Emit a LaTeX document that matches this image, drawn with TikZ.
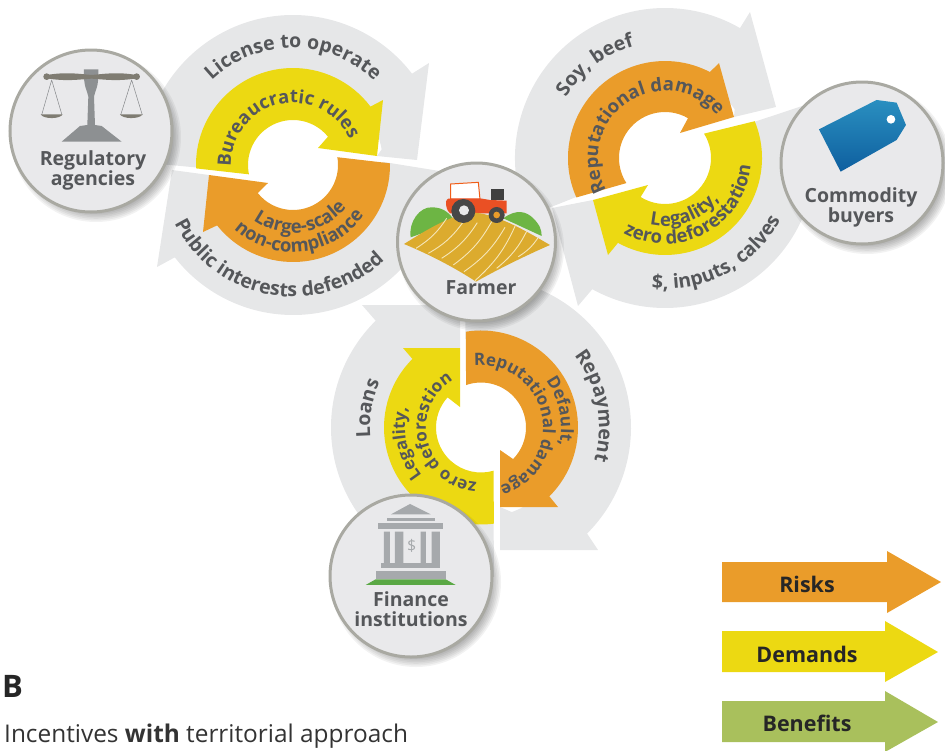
\documentclass[tikz,border=0pt]{standalone}
\usepackage{fontspec}
\setmainfont{Open Sans}
\usetikzlibrary{calc,decorations.text}
\definecolor{greyring}{HTML}{E6E7E8}
\definecolor{yel}{HTML}{ECD912}
\definecolor{ora}{HTML}{EA9C2A}
\definecolor{grn}{HTML}{A9C05C}
\definecolor{txtg}{HTML}{55575A}
\definecolor{hubfill}{HTML}{E9E9EB}
\definecolor{hubline}{HTML}{A9A9A2}
\definecolor{bank}{HTML}{A6A9AC}
\definecolor{beam}{HTML}{7F7C72}
\definecolor{bush}{HTML}{6DB544}
\definecolor{fieldc}{HTML}{DCAB2E}
\definecolor{furrow}{HTML}{F5E6B8}
\definecolor{lawn}{HTML}{5AA845}
\definecolor{tagtop}{HTML}{2A8FC0}
\definecolor{tagbot}{HTML}{0E5F9F}
\definecolor{tracred}{HTML}{EA5024}
\newcommand\lab{\fontsize{18.5}{23}\selectfont\bfseries\color{txtg}}
\newcommand\tight{\fontsize{17}{20}\selectfont}
\newcommand\wide{\fontsize{19.5}{23}\selectfont}
\newcommand\Arr[9]{\fill[#1] ($(#2)+(#4:#3)$) arc[start angle=#4,end angle=#5,radius=#3] #6 -- ($(#2)+(#8:#7)$) arc[start angle=#8,end angle=#9,radius=#7] -- cycle;}
\newcommand\CT[5]{\path[decorate,decoration={text along path,text align=center,text={|\lab#4|#5}}] ($(#1)+(#3+130:#2)$) arc[start angle=#3+130,end angle=#3-130,radius=#2];}
\newcommand\CC[5]{\path[decorate,decoration={text along path,text align=center,text={|\lab#4|#5}}] ($(#1)+(#3-130:#2)$) arc[start angle=#3-130,end angle=#3+130,radius=#2];}
\tikzset{
  hub/.style={circle,draw=hubline,line width=3pt,fill=hubfill,minimum size=#1,inner sep=0pt},
  hubtext/.style={font=\fontsize{19.5}{20}\selectfont\bfseries,text=txtg,align=center,inner sep=0pt},
  legendtext/.style={font=\fontsize{21.5}{24}\selectfont\bfseries,text=black!85,inner sep=0pt}
}
\newcommand\Shad[3]{\foreach \k in {0,...,7}{\fill[black,opacity=0.05] (#1+5,-#2-6) circle ({#3+4-\k*1.6});}}
\begin{document}
\begin{tikzpicture}[x=1pt,y=1pt]
\useasboundingbox (0,0) rectangle (945,-750);
\coordinate (c1) at (293,-165);
\coordinate (c2) at (665,-158);
\coordinate (c3) at (481,-427.5);
% grey rings
\Arr{greyring}{c1}{150}{179}{37.5}{-- (429,-63) -- (417,-160) -- (377,-156)}{90}{10}{182}
\Arr{greyring}{c1}{150}{-2.5}{-142}{-- (157,-267) -- (172,-170) -- (209,-175)}{90}{-145}{2}
\Arr{greyring}{c2}{150}{203}{60}{-- (750,-12) -- (776,-107) -- (734,-117)}{85}{35}{204}
\Arr{greyring}{c2}{150}{20.7}{-119}{-- (578,-306) -- (552,-208) -- (593,-200)}{90}{-125}{22.3}
\Arr{greyring}{c3}{150}{96}{-45}{-- (598,-550) -- (500,-550) -- (500,-507)}{90}{-70}{100}
\Arr{greyring}{c3}{150}{-85}{-225.4}{-- (362,-305) -- (460,-305) -- (460,-348)}{90}{-230}{-82}
% coloured rings
\Arr{yel}{c1}{97}{182}{37}{-- (383,-100) -- (377,-156) -- (318,-148)}{45}{39}{192}
\Arr{ora}{c1}{97}{1}{-141.5}{-- (203,-232) -- (209,-175) -- (268,-183)}{45}{-141.4}{10}
\Arr{ora}{c2}{97}{204}{62.4}{-- (719,-63) -- (734,-117) -- (680,-133)}{46}{60}{213}
\Arr{yel}{c2}{97}{22.3}{-119}{-- (608,-255) -- (593,-200) -- (648,-185)}{46}{-122}{32}
\Arr{ora}{c3}{97}{99}{-45.2}{-- (558,-507) -- (500,-507) -- (500,-450)}{45}{-44.5}{109.4}
\Arr{yel}{c3}{97}{-82.4}{-225}{-- (403,-348) -- (460,-348) -- (460,-407)}{45}{-222}{-73.7}
% curved labels
\CT{c1}{117}{90}{\wide}{License to operate}
\CT{c1}{62}{103}{}{Bureaucratic rules}
\CC{c1}{68}{-82}{}{Large-scale}
\CC{c1}{87}{-84}{}{non-compliance}
\CC{c1}{132}{-100}{\wide}{Public interests defended}
\CT{c2}{116}{127}{\wide}{Soy, beef}
\CT{c2}{67}{124}{}{Reputational damage}
\CC{c2}{68}{-70}{}{Legality,}
\CC{c2}{86}{-62}{}{zero deforestation}
\CC{c2}{131}{-62}{\wide}{{\$}, inputs, calves}
\CT{c3}{118}{10.7}{\wide}{Repayment}
\CT{c3}{111}{170.5}{\wide}{Loans}
\CT{c3}{80}{11.5}{\tight}{Default,}
\CT{c3}{62}{12}{\tight}{Reputational damage}
\CT{c3}{76}{192}{\tight}{Legality,}
\CT{c3}{55}{193}{\tight}{zero deforestion}
% hubs
\Shad{91}{131}{81}
\node[hub=162pt] (reg) at (91,-131) {};
\Shad{862}{163}{81}
\node[hub=162pt] (com) at (862,-163) {};
\Shad{411}{576}{81}
\node[hub=162pt] (fin) at (411,-576) {};
\Shad{476}{242}{79}
\node[hub=158pt] (far) at (476.5,-242) {};
\node[hubtext] (regt) at (93,-170) {Regulatory\\agencies};
\node[hubtext] (comt) at (861,-207) {Commodity\\buyers};
\node[hubtext] (fint) at (411,-609) {Finance\\institutions};
\node[hubtext] (fart) at (481,-288) {Farmer};
% scales
\begin{scope}[shift={(0,0)},x=0.3333pt,y=-0.3333pt]
\fill[bank!85!black] (185,425) -- (240,378) -- (262,375) -- (265,290) .. controls (262,270) and (250,265) .. (252,208) -- (295,208) .. controls (297,265) and (285,270) .. (282,290) -- (285,375) -- (305,378) -- (365,425) -- cycle;
\fill[beam] (140,230) circle (10) (410,230) circle (10);
\fill[beam] (140,225) .. controls (200,215) and (240,222) .. (275,225) .. controls (310,222) and (350,215) .. (410,225) -- (410,235) .. controls (350,245) and (310,238) .. (275,236) .. controls (240,238) and (200,245) .. (140,235) -- cycle;
\draw[bank!80!black,line width=0.5pt] (155,240) -- (125,345) (155,240) -- (186,345) (395,240) -- (362,345) (395,240) -- (427,345);
\fill[beam] (122,343) -- (188,343) .. controls (180,358) and (130,358) .. (122,343) -- cycle;
\fill[beam] (360,343) -- (428,343) .. controls (420,358) and (368,358) .. (360,343) -- cycle;
\end{scope}
% tag
\begin{scope}[shift={(480,0)},x=0.3333pt,y=-0.3333pt]
\shade[top color=tagtop,bottom color=tagbot] (1017,388) -- (1190,300) -- (1250,308) -- (1278,375) -- (1250,420) -- (1082,515) -- cycle;
\fill[white] (1233,358) circle (13);
\end{scope}
% bank
\begin{scope}[shift={(310,-300)},x=0.3333pt,y=-0.3333pt]
\fill[bank] (243,643) -- (300,612) -- (362,643) -- cycle;
\fill[bank] (230,653) rectangle (375,662);
\fill[bank] (205,670) rectangle (398,687);
\fill[bank] (222,695) rectangle (240,790) (255,695) rectangle (280,790) (332,695) rectangle (348,790) (365,695) rectangle (390,790);
\fill[bank] (213,788) rectangle (390,805);
\fill[bank] (197,812) rectangle (407,838);
\fill[lawn] (197,838) -- (407,838) -- (437,855) -- (167,855) -- cycle;
\node[inner sep=0pt,text=bank,font=\fontsize{16}{18}\selectfont] (dollar) at (305,738) {\$};
\end{scope}
% farm
\begin{scope}[shift={(390,-150)},x=0.3333pt,y=-0.3333pt]
\fill[bush] (62,262) .. controls (55,215) and (90,170) .. (125,172) .. controls (150,172) and (175,180) .. (195,215) -- cycle;
\fill[bush] (340,205) .. controls (380,175) and (410,185) .. (430,205) .. controls (450,225) and (455,240) .. (455,258) -- cycle;
\draw[tracred!70!orange,line width=1pt,fill=white] (182,148) -- (182,102) -- (265,97) -- (270,148) -- cycle;
\fill[tracred] (168,155) .. controls (172,145) and (175,145) .. (185,145) -- (270,145) -- (300,150) -- (350,152) -- (350,190) -- (180,190) .. controls (170,180) and (168,170) .. (168,155) -- cycle;
\fill[black!75] (303,117) rectangle (342,150);
\fill[fieldc] (42,282) .. controls (110,240) and (180,195) .. (250,188) .. controls (320,190) and (420,250) .. (480,285) .. controls (400,320) and (320,360) .. (258,395) .. controls (190,350) and (110,310) .. (42,282) -- cycle;
\foreach \a/\b/\c/\d in {78/295/170/205,115/310/218/218,155/325/262/218,190/345/305/215,222/365/345/232,255/392/378/222,320/355/412/240,385/320/445/262}{
  \draw[furrow,line width=0.9pt] (\a,\b) to[bend right=12] (\c,\d);
}
\fill[black!72] (220,183) circle (36);
\fill[hubfill] (222,181) circle (15);
\fill[black!72] (320,195) circle (24);
\fill[ora] (320,195) circle (10);
\end{scope}
% legend
\fill[ora] (722,-562) -- (887,-562) -- (887,-551) -- (941,-582) -- (887,-613) -- (887,-602) -- (722,-602) -- cycle;
\fill[yel] (722,-631) -- (885,-631) -- (885,-621) -- (938,-652) -- (885,-682) -- (885,-672) -- (722,-672) -- cycle;
\fill[grn] (722,-701) -- (885,-701) -- (885,-691) -- (938,-722) -- (885,-752) -- (885,-742) -- (722,-742) -- cycle;
\node[legendtext] (risks) at (807,-584) {Risks};
\node[legendtext] (demands) at (807,-654) {Demands};
\node[legendtext] (benefits) at (807,-723) {Benefits};
% panel title
\node[anchor=base west,inner sep=0pt,font=\fontsize{31}{34}\selectfont\bfseries,text=black!85] (panel) at (2,-697) {B};
\node[anchor=base west,inner sep=0pt,font=\fontsize{24.4}{28}\selectfont,text=black!80] (title) at (4,-742) {Incentives \textbf{with} territorial approach};
\end{tikzpicture}
\end{document}
